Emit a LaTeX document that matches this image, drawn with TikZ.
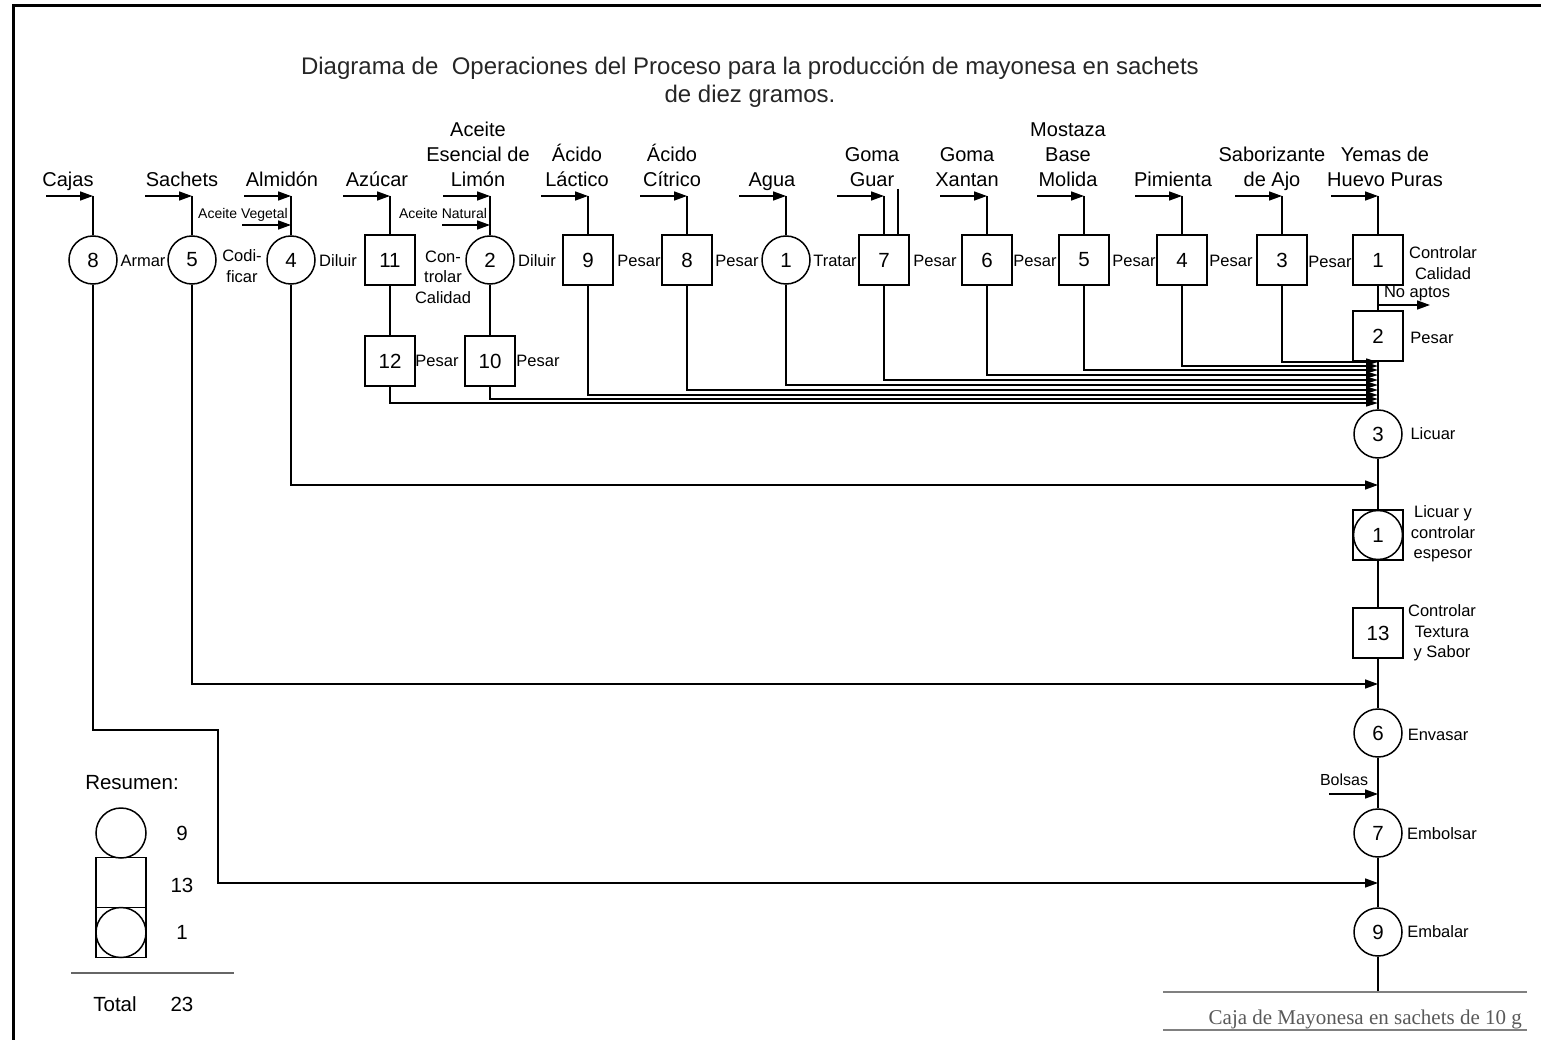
\documentclass[tikz,border=0pt]{standalone}
\usepackage{fontspec}
\setmainfont{Liberation Sans}
\newfontfamily\capserif{Liberation Serif}
\usetikzlibrary{arrows.meta}
\newcommand\ftitle{\fontsize{24}{28.5}\selectfont}
\newcommand\ftop{\fontsize{20}{25}\selectfont}
\newcommand\fside{\fontsize{16.5}{20.5}\selectfont}
\newcommand\fsmall{\fontsize{14}{15}\selectfont}
\newcommand\fnum{\fontsize{20.5}{24}\selectfont}
\newcommand\fsum{\fontsize{20.5}{24}\selectfont}
\tikzset{
  op/.style={circle, draw, line width=1.5pt, minimum size=48pt, inner sep=0pt, font=\fnum},
  insp/.style={rectangle, draw, line width=1.5pt, minimum size=50pt, inner sep=0pt, font=\fnum},
  ln/.style={line width=1.5pt},
  arr/.style={line width=1.5pt, -{Triangle[length=13pt,width=9pt]}},
  arrm/.style={line width=1.5pt, -{Triangle[length=12pt,width=7pt]}},
  toplab/.style={anchor=south, inner sep=0pt, text depth=0pt, align=center, font=\ftop},
  sidelab/.style={inner sep=0pt, align=center, font=\fside},
  sumtxt/.style={inner sep=0pt, font=\fsum},
  capline/.style={line width=1.5pt, draw=black!50},
}
\begin{document}
\begin{tikzpicture}[x=1pt,y=-1pt]
\useasboundingbox (0,0) rectangle (1541,1040);
% frame
\coordinate (fa) at (13,1040); \coordinate (fb) at (13,6); \coordinate (fc) at (1541,6);
\draw[line width=3pt] (fa) -- (fb) -- (fc);
% title
\node[anchor=south, inner sep=0pt, text depth=0pt, align=center, font=\ftitle, text=black!85] (title) at (750,103)
  {Diagrama de\ \ Operaciones del Proceso para la producción de mayonesa en sachets\\de diez gramos.};
% top row nodes
\node[op]   (o8)  at (93,260)   {8};
\node[op]   (o5)  at (192,260)  {5};
\node[op]   (o4)  at (291,260)  {4};
\node[insp] (s11) at (390,260)  {11};
\node[op]   (o2)  at (490,260)  {2};
\node[insp] (s9)  at (588,260)  {9};
\node[insp] (s8)  at (687,260)  {8};
\node[op]   (o1)  at (786,260)  {1};
\node[insp] (s7)  at (884,260)  {7};
\node[insp] (s6)  at (987,260)  {6};
\node[insp] (s5)  at (1084,260) {5};
\node[insp] (s4)  at (1182,260) {4};
\node[insp] (s3)  at (1282,260) {3};
\node[insp] (s1)  at (1378,260) {1};
\node[insp] (s2)  at (1378,336) {2};
\node[insp] (s12) at (390,361)  {12};
\node[insp] (s10) at (490,361)  {10};
% main column
\node[op]   (o3)  at (1378,434) {3};
\node[insp] (c1b) at (1378,535) {};
\node[op, minimum size=49pt] (c1) at (1378,535) {1};
\node[insp] (s13) at (1378,633) {13};
\node[op]   (o6)  at (1378,733) {6};
\node[op]   (o7)  at (1378,833) {7};
\node[op]   (o9)  at (1378,932) {9};
% inputs
\coordinate (rowin) at (0,196);
\foreach \nd/\lx/\lbl in {o8/68/Cajas, o5/182/Sachets, o4/282/Almidón, s11/377/Azúcar,
  o2/478/{Aceite\\Esencial de\\Limón}, s9/577/{Ácido\\Láctico}, s8/672/{Ácido\\Cítrico},
  o1/772/Agua, s7/872/{Goma\\Guar}, s6/967/{Goma\\Xantan}, s5/1068/{Mostaza\\Base\\Molida},
  s4/1173/Pimienta, s3/1272/{Saborizante\\de Ajo}, s1/1385/{Yemas de\\Huevo Puras}}{
  \node[toplab] (lab-\nd) at (\lx,187) {\lbl};
  \coordinate (src-\nd) at ([xshift=-47pt]\nd |- rowin);
  \draw[arr] (src-\nd) -- (\nd |- rowin);
  \draw[ln] (\nd |- rowin) -- (\nd);
}
% secondary inputs
\coordinate (veg) at (242,225);
\coordinate (nat) at (442,225);
\draw[arr] (veg) -- (o4 |- veg);
\draw[arr] (nat) -- (o2 |- nat);
\node[anchor=base, inner sep=0pt, font=\fsmall] (lveg) at (243,219) {Aceite Vegetal};
\node[anchor=base, inner sep=0pt, font=\fsmall] (lnat) at (443,219) {Aceite Natural};
% stray line at Goma Guar
\coordinate (gx) at (898,189);
\draw[ln] (gx) -- (gx |- s7.north);
% side labels
\node[sidelab] (t8)  at (143,261)  {Armar};
\node[sidelab] (t5)  at (242,266)  {Codi-\\ficar};
\node[sidelab] (t4)  at (338,261)  {Diluir};
\node[sidelab] (t11) at (443,277)  {Con-\\trolar\\Calidad};
\node[sidelab] (t2)  at (537,261)  {Diluir};
\node[sidelab] (t9)  at (639,261)  {Pesar};
\node[sidelab] (ts8) at (737,261)  {Pesar};
\node[sidelab] (t1)  at (835,261)  {Tratar};
\node[sidelab] (t7)  at (935,261)  {Pesar};
\node[sidelab] (t6)  at (1035,261) {Pesar};
\node[sidelab] (ts5) at (1134,261) {Pesar};
\node[sidelab] (ts4) at (1231,261) {Pesar};
\node[sidelab] (ts3) at (1330,262) {Pesar};
\node[sidelab] (ts1) at (1443,263) {Controlar\\Calidad};
\node[sidelab] (tna) at (1417,294) {No aptos};
\node[sidelab] (ts2) at (1432,338) {Pesar};
\node[sidelab] (t12) at (437,361)  {Pesar};
\node[sidelab] (t10) at (538,361)  {Pesar};
\node[sidelab] (to3) at (1433,434) {Licuar};
\node[sidelab] (tc1) at (1443,534) {Licuar y\\controlar\\espesor};
\node[sidelab] (t13) at (1442,633) {Controlar\\Textura\\y Sabor};
\node[sidelab] (to6) at (1438,735) {Envasar};
\node[sidelab, font=\fontsize{16}{18}\selectfont] (tbol) at (1344,780) {Bolsas};
\node[sidelab] (to7) at (1442,834) {Embolsar};
\node[sidelab] (to9) at (1438,932) {Embalar};
% branch connectors
\draw[ln] (s11) -- (s12);
\draw[ln] (o2) -- (s10);
% merges into main column
\foreach \nd/\yy in {s3/362, s4/366, s5/370, s6/375, s7/380, o1/385, s8/390, s9/395, s10/399, s12/403}{
  \coordinate (m-\nd) at (1378,\yy);
  \draw[arrm] (\nd) |- (m-\nd);
}
% main column connectors
\draw[ln] (s1) -- (s2);
\coordinate (na) at (1378,305);
\coordinate (naend) at (1430,305);
\draw[arr] (na) -- (naend);
\draw[ln] (s2) -- (o3);
\draw[ln] (o3) -- (c1b);
\coordinate (j4) at (1378,485);
\draw[arr] (o4) |- (j4);
\draw[ln] (c1b) -- (s13);
\draw[ln] (s13) -- (o6);
\coordinate (j5) at (1378,684);
\draw[arr] (o5) |- (j5);
\draw[ln] (o6) -- (o7);
\coordinate (bin) at (1329,794);
\draw[arr] (bin) -- (o7 |- bin);
\draw[ln] (o7) -- (o9);
\coordinate (k1) at (93,730);
\coordinate (k2) at (218,730);
\coordinate (j8) at (1378,883);
\draw[arr] (o8) -- (k1) -- (k2) |- (j8);
\coordinate (fin) at (1378,992);
\draw[ln] (o9) -- (fin);
% caption
\coordinate (ca1) at (1163,992); \coordinate (ca2) at (1527,992);
\coordinate (cb1) at (1163,1030); \coordinate (cb2) at (1527,1030);
\draw[capline] (ca1) -- (ca2);
\draw[capline] (cb1) -- (cb2);
\node[anchor=base east, inner sep=0pt, font=\capserif\fontsize{21}{24}\selectfont, text=black!65] (cap) at (1522,1024)
  {Caja de Mayonesa en sachets de 10 g};
% summary
\node[sumtxt] (res) at (132,783) {Resumen:};
\node[op, minimum size=50pt] (r9) at (121,833) {};
\node[insp] (r13) at (121,882.5) {};
\node[insp] (r1b) at (121,932.5) {};
\node[op, minimum size=50pt] (r1) at (121,932.5) {};
\node[sumtxt] (n9) at (182,833) {9};
\node[sumtxt] (n13) at (182,885) {13};
\node[sumtxt] (n1) at (182,932) {1};
\coordinate (sl1) at (71,973); \coordinate (sl2) at (234,973);
\draw[line width=1.5pt, draw=black!60] (sl1) -- (sl2);
\node[sumtxt] (tot) at (115,1004) {Total};
\node[sumtxt] (n23) at (182,1004) {23};
\end{tikzpicture}
\end{document}
